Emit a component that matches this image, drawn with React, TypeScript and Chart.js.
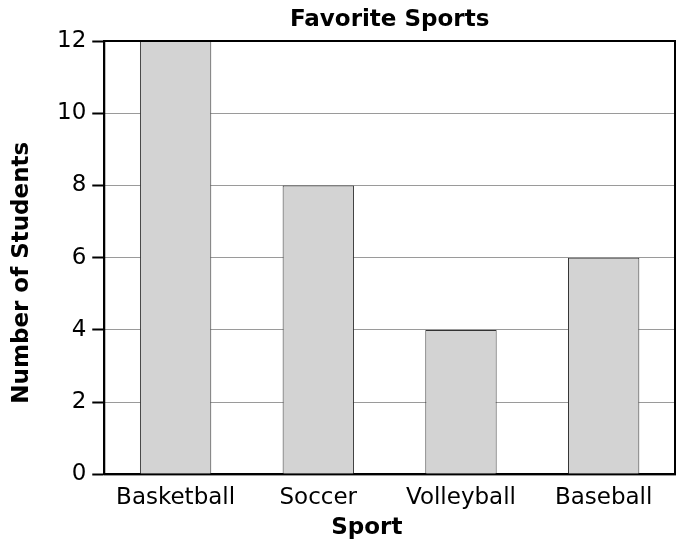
import { Chart, registerables, Plugin } from "chart.js"
import { useEffect, useRef } from "react"

Chart.register(...registerables)

const sports = ["Basketball", "Soccer", "Volleyball", "Baseball"]
const students = [12, 8, 4, 6]
const yTicks = [0, 2, 4, 6, 8, 10, 12]

const FONT = "'DejaVu Sans', Verdana, sans-serif"

// titles and the box round the plot, drawn by hand
const framePlugin: Plugin<"bar"> = {
  id: "frame",
  afterDraw(chart) {
    const { ctx, chartArea } = chart
    const { left, right, top, bottom } = chartArea
    ctx.save()
    ctx.strokeStyle = "#000"
    ctx.lineWidth = 2
    ctx.strokeRect(left, top, right - left, bottom - top)

    ctx.fillStyle = "#000"
    ctx.font = `bold 23px ${FONT}`
    ctx.textAlign = "center"
    ctx.textBaseline = "middle"
    ctx.fillText("Favorite Sports", (left + right) / 2, 20)
    ctx.fillText("Sport", left + (right - left) * 0.46, 528)

    ctx.translate(22, (top + bottom) / 2 + 15)
    ctx.rotate(-Math.PI / 2)
    ctx.fillText("Number of Students", 0, 0)
    ctx.restore()
  },
}

export default function App() {
  const canvasRef = useRef<HTMLCanvasElement>(null)

  useEffect(() => {
    document.body.style.margin = "0"
    const ctx = canvasRef.current?.getContext("2d")
    if (!ctx) return

    const chart = new Chart(ctx, {
      type: "bar",
      data: {
        labels: sports,
        datasets: [
          {
            data: students,
            backgroundColor: "#d3d3d3",
            borderColor: "#333",
            borderWidth: 1,
            barPercentage: 0.5,
            categoryPercentage: 1,
          },
        ],
      },
      options: {
        animation: false,
        responsive: false,
        layout: { padding: { top: 41, left: 51, right: 5, bottom: 30 } },
        plugins: {
          legend: { display: false },
          title: { display: false },
          tooltip: { enabled: false },
        },
        scales: {
          x: {
            grid: { display: false, drawTicks: false },
            border: { color: "#000", width: 2 },
            ticks: {
              color: "#000",
              padding: 10,
              font: { family: FONT, size: 23 },
            },
          },
          y: {
            min: 0,
            max: 12,
            afterBuildTicks: (axis) => {
              axis.ticks = yTicks.map((v) => ({ value: v }))
            },
            grid: {
              color: "#9a9a9a",
              lineWidth: 1,
              tickColor: "#000",
              tickWidth: 2,
              tickLength: 12,
            },
            border: { color: "#000", width: 2 },
            ticks: {
              color: "#000",
              padding: 6,
              font: { family: FONT, size: 23 },
            },
          },
        },
      },
      plugins: [framePlugin],
    })

    return () => {
      chart.destroy()
    }
  }, [])

  return (
    <div style={{ width: 680, height: 552 }}>
      <canvas ref={canvasRef} width={680} height={552}></canvas>
    </div>
  )
}
